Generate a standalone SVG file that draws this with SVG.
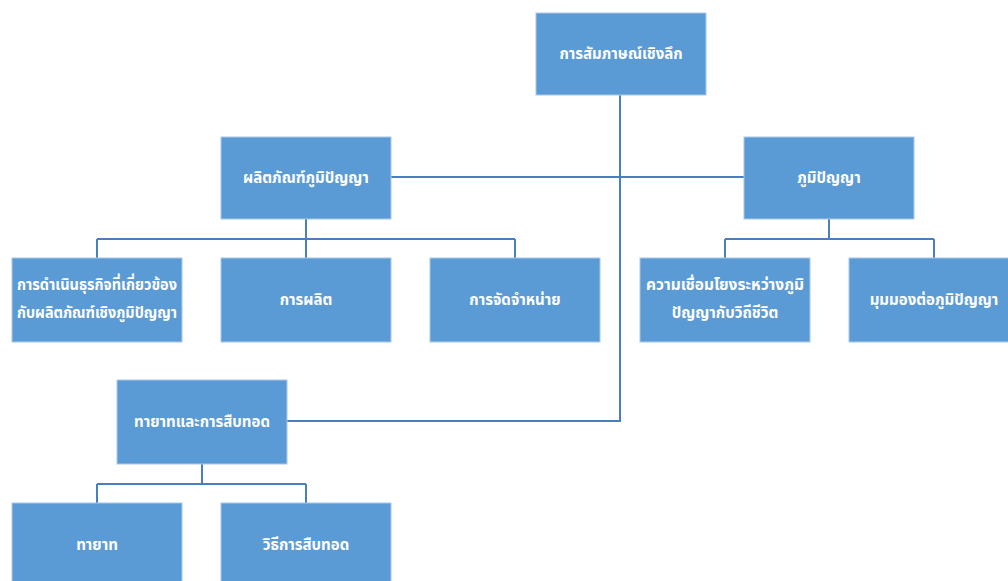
<svg xmlns="http://www.w3.org/2000/svg" width="1008" height="581" viewBox="0 0 1008 581">
  <style>
    .box { fill: #5B9BD5; stroke: #A9C8EA; stroke-width: 1; }
    .lbl { fill: #FFFFFF; font-family: "Noto Sans Thai", "Noto Sans", "DejaVu Sans", sans-serif; font-size: 15px; font-weight: bold; text-anchor: middle; dominant-baseline: central; }
    .link { fill: none; stroke: #4A7FBF; stroke-width: 2; }
  </style>
  <rect width="1008" height="581" fill="#FFFFFF"/>

  <!-- connectors -->
  <g id="connectors">
    <path class="link" d="M620 95 V421 H287"/>
    <path class="link" d="M391 177 H744"/>
    <path class="link" d="M306 219 V239 M97 239 H515 M97 239 V258 M306 239 V258 M515 239 V258"/>
    <path class="link" d="M829 219 V239 M725 239 H934 M725 239 V258 M934 239 V258"/>
    <path class="link" d="M202 464 V484 M97 484 H306 M97 484 V503 M306 484 V503"/>
  </g>

  <g id="root">
    <rect class="box" x="536" y="13" width="170" height="82"/>
    <text class="lbl" x="621" y="54">การสัมภาษณ์เชิงลึก</text>
  </g>
  <g id="product">
    <rect class="box" x="221" y="137" width="170" height="82"/>
    <text class="lbl" x="306" y="178">ผลิตภัณฑ์ภูมิปัญญา</text>
  </g>
  <g id="wisdom">
    <rect class="box" x="744" y="137" width="170" height="82"/>
    <text class="lbl" x="829" y="178">ภูมิปัญญา</text>
  </g>
  <g id="business">
    <rect class="box" x="12" y="258" width="170" height="84"/>
    <text class="lbl" x="97" y="285" textLength="160" lengthAdjust="spacingAndGlyphs">การดำเนินธุรกิจที่เกี่ยวข้อง</text>
    <text class="lbl" x="97" y="313" textLength="160" lengthAdjust="spacingAndGlyphs">กับผลิตภัณฑ์เชิงภูมิปัญญา</text>
  </g>
  <g id="production">
    <rect class="box" x="221" y="258" width="170" height="84"/>
    <text class="lbl" x="306" y="300">การผลิต</text>
  </g>
  <g id="distribution">
    <rect class="box" x="430" y="258" width="170" height="84"/>
    <text class="lbl" x="515" y="300">การจัดจำหน่าย</text>
  </g>
  <g id="lifestyle">
    <rect class="box" x="640" y="258" width="170" height="84"/>
    <text class="lbl" x="725" y="285" textLength="158" lengthAdjust="spacingAndGlyphs">ความเชื่อมโยงระหว่างภูมิ</text>
    <text class="lbl" x="725" y="313">ปัญญากับวิถีชีวิต</text>
  </g>
  <g id="viewpoint">
    <rect class="box" x="849" y="258" width="170" height="84"/>
    <text class="lbl" x="934" y="300">มุมมองต่อภูมิปัญญา</text>
  </g>
  <g id="succession">
    <rect class="box" x="117" y="380" width="170" height="84"/>
    <text class="lbl" x="202" y="422">ทายาทและการสืบทอด</text>
  </g>
  <g id="heir">
    <rect class="box" x="12" y="503" width="170" height="84"/>
    <text class="lbl" x="97" y="545">ทายาท</text>
  </g>
  <g id="method">
    <rect class="box" x="221" y="503" width="170" height="84"/>
    <text class="lbl" x="306" y="545">วิธีการสืบทอด</text>
  </g>
</svg>
